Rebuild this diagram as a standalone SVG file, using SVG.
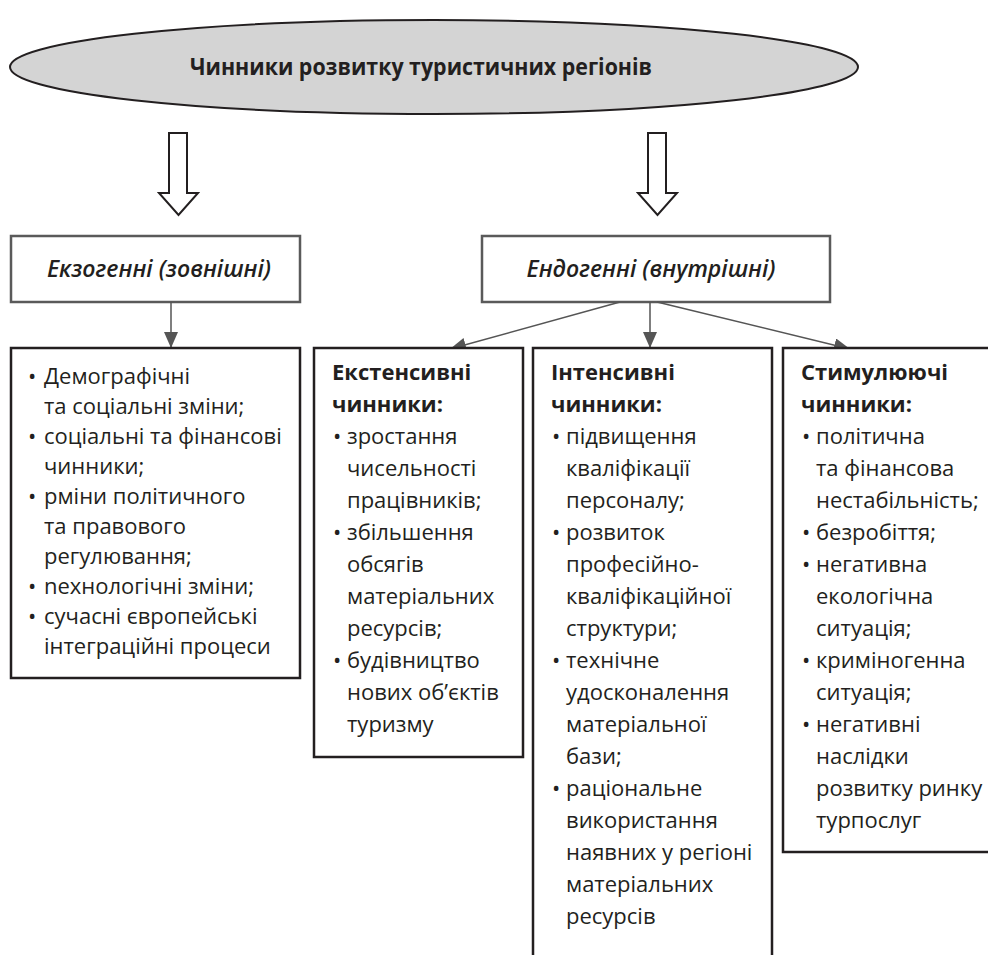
<svg xmlns="http://www.w3.org/2000/svg" width="988" height="955" viewBox="0 0 988 955">
<defs>
<style>
text{font-family:"Open Sans","Noto Sans",sans-serif;fill:#231f20}
.t{font-size:24px;font-weight:bold}
.lbl{font-size:23px;font-style:italic;font-weight:600;text-anchor:middle}
.b{font-size:22px}
.h{font-weight:bold}
.lab{fill:#fff;stroke:#5a5a5a;stroke-width:2.5}
.box{fill:#fff;stroke:#231f20;stroke-width:2.5}
.hol{fill:#fff;stroke:#231f20;stroke-width:2}
.con{stroke:#555;stroke-width:1.5;fill:none;marker-end:url(#ah)}
</style>
<marker id="ah" markerUnits="userSpaceOnUse" markerWidth="16" markerHeight="14" refX="16" refY="7" orient="auto">
<path d="M0,0 L16,7 L0,14 z" fill="#555"/>
</marker>
</defs>
<rect width="988" height="955" fill="#fff"/>

<g id="title">
<ellipse cx="434" cy="67" rx="424" ry="47" fill="#d4d4d4" stroke="#231f20" stroke-width="2"/>
<text class="t" x="421" y="75" text-anchor="middle" textLength="462" lengthAdjust="spacingAndGlyphs">Чинники розвитку туристичних регіонів</text>
</g>

<g id="arrows-hollow">
<polygon class="hol" points="169,133 187,133 187,193 198,193 178.5,215 159,193 169,193"/>
<polygon class="hol" points="648,133 666,133 666,193 677,193 657.5,215 638,193 648,193"/>
</g>

<g id="exo">
<rect class="lab" x="11" y="236" width="289" height="66"/>
<text class="lbl" x="159" y="277">Екзогенні (зовнішні)</text>
</g>

<g id="endo">
<rect class="lab" x="482" y="236" width="348" height="66"/>
<text class="lbl" x="651" y="277">Ендогенні (внутрішні)</text>
</g>

<g id="connectors">
<line class="con" x1="171" y1="302" x2="171" y2="348"/>
<line class="con" x1="620" y1="302" x2="450" y2="349"/>
<line class="con" x1="650" y1="302" x2="650" y2="348"/>
<line class="con" x1="657" y1="302" x2="850" y2="349"/>
</g>

<g id="exo-list">
<rect class="box" x="11" y="348" width="289" height="330"/>
<text class="b">
<tspan x="28" y="384">•</tspan><tspan x="44" y="384">Демографічні</tspan>
<tspan x="44" y="414">та соціальні зміни;</tspan>
<tspan x="28" y="444">•</tspan><tspan x="44" y="444">соціальні та фінансові</tspan>
<tspan x="44" y="474">чинники;</tspan>
<tspan x="28" y="504">•</tspan><tspan x="44" y="504">pміни політичного</tspan>
<tspan x="44" y="534">та правового</tspan>
<tspan x="44" y="564">регулювання;</tspan>
<tspan x="28" y="594">•</tspan><tspan x="44" y="594">nехнологічні зміни;</tspan>
<tspan x="28" y="624">•</tspan><tspan x="44" y="624">сучасні європейські</tspan>
<tspan x="44" y="654">інтеграційні процеси</tspan>
</text>
</g>

<g id="extensive">
<rect class="box" x="314" y="348" width="209" height="409"/>
<text class="b">
<tspan class="h" x="332" y="380">Екстенсивні</tspan>
<tspan class="h" x="332" y="412">чинники:</tspan>
<tspan x="333" y="444">•</tspan><tspan x="347" y="444">зростання</tspan>
<tspan x="347" y="476">чисельності</tspan>
<tspan x="347" y="508">працівників;</tspan>
<tspan x="333" y="540">•</tspan><tspan x="347" y="540">збільшення</tspan>
<tspan x="347" y="572">обсягів</tspan>
<tspan x="347" y="604">матеріальних</tspan>
<tspan x="347" y="636">ресурсів;</tspan>
<tspan x="333" y="668">•</tspan><tspan x="347" y="668">будівництво</tspan>
<tspan x="347" y="700">нових об’єктів</tspan>
<tspan x="347" y="732">туризму</tspan>
</text>
</g>

<g id="intensive">
<rect class="box" x="533" y="348" width="239" height="630"/>
<text class="b">
<tspan class="h" x="551" y="380">Інтенсивні</tspan>
<tspan class="h" x="551" y="412">чинники:</tspan>
<tspan x="552" y="444">•</tspan><tspan x="566" y="444">підвищення</tspan>
<tspan x="566" y="476">кваліфікації</tspan>
<tspan x="566" y="508">персоналу;</tspan>
<tspan x="552" y="540">•</tspan><tspan x="566" y="540">розвиток</tspan>
<tspan x="566" y="572">професійно-</tspan>
<tspan x="566" y="604">кваліфікаційної</tspan>
<tspan x="566" y="636">структури;</tspan>
<tspan x="552" y="668">•</tspan><tspan x="566" y="668">технічне</tspan>
<tspan x="566" y="700">удосконалення</tspan>
<tspan x="566" y="732">матеріальної</tspan>
<tspan x="566" y="764">бази;</tspan>
<tspan x="552" y="796">•</tspan><tspan x="566" y="796">раціональне</tspan>
<tspan x="566" y="828">використання</tspan>
<tspan x="566" y="860">наявних у регіоні</tspan>
<tspan x="566" y="892">матеріальних</tspan>
<tspan x="566" y="924">ресурсів</tspan>
</text>
</g>

<g id="stimulating">
<rect class="box" x="783" y="348" width="230" height="504"/>
<text class="b">
<tspan class="h" x="801" y="380">Стимулюючі</tspan>
<tspan class="h" x="801" y="412">чинники:</tspan>
<tspan x="802" y="444">•</tspan><tspan x="816" y="444">політична</tspan>
<tspan x="816" y="476">та фінансова</tspan>
<tspan x="816" y="508">нестабільність;</tspan>
<tspan x="802" y="540">•</tspan><tspan x="816" y="540">безробіття;</tspan>
<tspan x="802" y="572">•</tspan><tspan x="816" y="572">негативна</tspan>
<tspan x="816" y="604">екологічна</tspan>
<tspan x="816" y="636">ситуація;</tspan>
<tspan x="802" y="668">•</tspan><tspan x="816" y="668">криміногенна</tspan>
<tspan x="816" y="700">ситуація;</tspan>
<tspan x="802" y="732">•</tspan><tspan x="816" y="732">негативні</tspan>
<tspan x="816" y="764">наслідки</tspan>
<tspan x="816" y="796">розвитку ринку</tspan>
<tspan x="816" y="828">турпослуг</tspan>
</text>
</g>
</svg>
